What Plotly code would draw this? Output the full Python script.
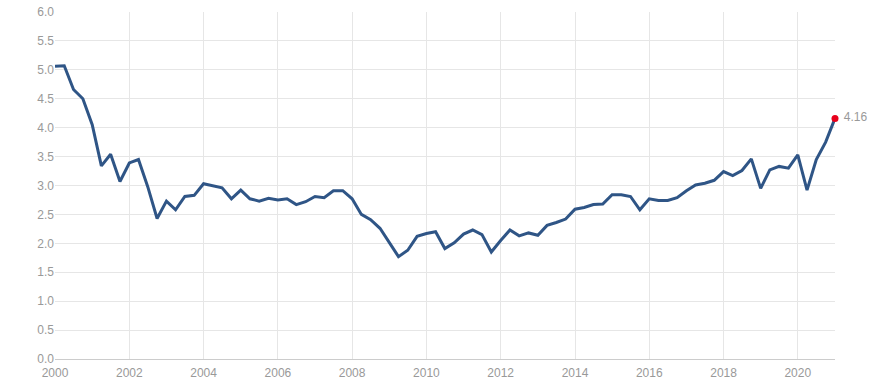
import plotly.graph_objects as go

start_year = 2000
values = [
    5.06, 5.07, 4.66, 4.50, 4.05, 3.34, 3.54, 3.07,
    3.39, 3.45, 2.98, 2.43, 2.73, 2.58, 2.81, 2.83,
    3.03, 3.00, 2.96, 2.77, 2.92, 2.77, 2.73, 2.78,
    2.75, 2.77, 2.67, 2.72, 2.81, 2.79, 2.91, 2.91,
    2.77, 2.50, 2.41, 2.26, 2.01, 1.77, 1.88, 2.12,
    2.17, 2.20, 1.91, 2.01, 2.16, 2.23, 2.15, 1.85,
    2.05, 2.23, 2.13, 2.18, 2.14, 2.31, 2.36, 2.42,
    2.59, 2.62, 2.67, 2.68, 2.84, 2.84, 2.81, 2.58,
    2.77, 2.74, 2.74, 2.79, 2.91, 3.01, 3.04, 3.09,
    3.24, 3.17, 3.26, 3.46, 2.95, 3.27, 3.33, 3.30,
    3.53, 2.92, 3.45, 3.75, 4.16,
]
dates = [f"{start_year + i // 4}-{(i % 4) * 3 + 1:02d}-01" for i in range(len(values))]
last_label = "4.16"
x_ticks = [f"{y}-01-01" for y in range(2000, 2021, 2)]
x_tick_text = [str(y) for y in range(2000, 2021, 2)]
y_ticks = [i * 0.5 for i in range(13)]

fig = go.Figure()
fig.add_trace(go.Scatter(
    x=dates, y=values, mode="lines",
    line=dict(color="#2f5586", width=3),
    hoverinfo="x+y", showlegend=False,
))
fig.add_trace(go.Scatter(
    x=[dates[-1]], y=[values[-1]], mode="markers+text",
    marker=dict(color="#e8001c", size=7),
    text=[" " + last_label], textposition="middle right",
    textfont=dict(color="#999999", size=12, family="Liberation Sans, Arial, sans-serif"),
    cliponaxis=False, showlegend=False,
))

fig.update_layout(
    width=890, height=384,
    margin=dict(l=55, r=55, t=12, b=25, autoexpand=False),
    paper_bgcolor="white", plot_bgcolor="white",
    font=dict(family="Liberation Sans, Arial, sans-serif", size=12, color="#999999"),
)
fig.update_xaxes(
    type="date", range=[dates[0], dates[-1]],
    tickvals=x_ticks, ticktext=x_tick_text,
    showgrid=True, gridcolor="#e6e6e6", gridwidth=1,
    showline=True, linecolor="#cccccc", linewidth=1,
    ticks="", zeroline=False, automargin=False, ticklabelstandoff=3,
    tickfont=dict(color="#999999", size=12),
)
fig.update_yaxes(
    range=[0, 6], tickvals=y_ticks, tickformat=".1f",
    showgrid=True, gridcolor="#e6e6e6", gridwidth=1,
    zeroline=False, showline=False, ticks="", automargin=False,
    tickfont=dict(color="#999999", size=12),
)

fig.write_html(
    "out.html",
    config={"displayModeBar": False},
    post_script="document.body.style.margin='0';document.body.style.overflow='hidden';",
)
